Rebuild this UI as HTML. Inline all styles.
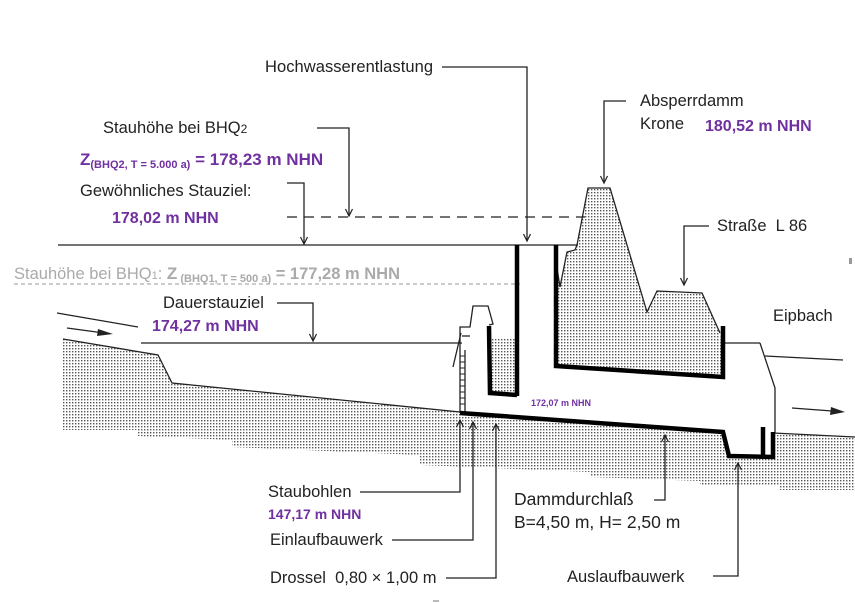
<!DOCTYPE html>
<html><head><meta charset="utf-8"><style>
html,body{margin:0;padding:0;background:#fff;}
svg{display:block;}
text{font-family:"Liberation Sans",sans-serif;}
.t{font-size:16.5px;fill:#222;}
.p{font-size:16px;fill:#7030a0;font-weight:bold;}
</style></head><body>
<svg width="855" height="603" viewBox="0 0 855 603" xmlns="http://www.w3.org/2000/svg">
<defs>
<pattern id="d" width="3" height="3" patternUnits="userSpaceOnUse"><rect width="1.4" height="1.4" fill="#555"/></pattern>
<marker id="a" markerWidth="10" markerHeight="10" refX="8" refY="4" orient="auto" markerUnits="userSpaceOnUse"><path d="M1,0.5 L8,4 L1,7.5" fill="none" stroke="#222" stroke-width="1.2"/></marker>
</defs>

<polygon fill="url(#d)" points="63,339 158,355 172,383 460,412 460,414 723,432 729,457 773,458 773,433 855,437 855,490 780,490 780,486 700,486 700,481 590,477 590,472 420,465 420,455 232,447 232,440 138,436 138,430 63,430"/>
<polygon fill="url(#d)" points="588,188 610,188 647,312 657,291 702,293 720,333 723,378 556,367 556,262 560,287 567,252 575,250 577,245"/>
<rect x="492" y="338" width="23" height="55" fill="url(#d)"/>

<g fill="none" stroke="#222" stroke-width="1.3">
<polyline points="63,339 158,355 172,383 460,412"/>
<line x1="57" y1="313" x2="138" y2="327"/>
<line x1="773" y1="433" x2="855" y2="437"/>
<line x1="58" y1="245" x2="578" y2="245"/>
<line x1="141" y1="343" x2="462" y2="343"/>
<line x1="723" y1="343" x2="760" y2="343"/>
<polyline points="760,343 775,388 775,433"/>
<line x1="765" y1="356" x2="843" y2="360"/>
<line x1="287" y1="217" x2="585" y2="217" stroke-dasharray="10,7"/>
<line x1="14" y1="284" x2="520" y2="284" stroke="#999" stroke-dasharray="4,3" stroke-width="1"/>
<polyline points="556,262 560,287 567,252 575,250 577,245 588,188 610,188 647,312 657,291 702,293 720,333"/>
<polyline points="460,413 460,327 470,327 473,306 488,306 493,324 489,325"/>
<polyline points="462,336 470,336"/>
<line x1="453" y1="367" x2="461" y2="333"/>
<line x1="465" y1="350" x2="465" y2="412"/>
<path d="M460,356h5M460,362h5M460,368h5M460,374h5M460,380h5M460,386h5M460,392h5M460,398h5M460,404h5" stroke-width="1"/>
<polyline points="442,67 527,67 527,241" marker-end="url(#a)"/>
<polyline points="317,128 349,128 349,216" marker-end="url(#a)"/>
<polyline points="287,183 304,183 304,244" marker-end="url(#a)"/>
<polyline points="277,303 313,303 313,341" marker-end="url(#a)"/>
<polyline points="626,101 604,101 604,183" marker-end="url(#a)"/>
<polyline points="709,226 684,226 684,285" marker-end="url(#a)"/>
<polyline points="360,492 460,492 460,420" marker-end="url(#a)"/>
<polyline points="392,540 473,540 473,422" marker-end="url(#a)"/>
<polyline points="446,578 496,578 496,424" marker-end="url(#a)"/>
<polyline points="654,500 665,500 665,435" marker-end="url(#a)"/>
<polyline points="713,576 738,576 738,463" marker-end="url(#a)"/>
</g>
<line x1="67" y1="328" x2="104" y2="333" stroke="#222" stroke-width="1.3"/>
<polygon points="113,334 98,329 97,336" fill="#222"/>
<line x1="792" y1="408" x2="832" y2="411" stroke="#222" stroke-width="1.3"/>
<polygon points="845,412 831,407 830,415" fill="#222"/>

<g fill="none" stroke="#000" stroke-width="4.5" stroke-linejoin="miter">
<polyline points="460,413 723,432 729,456 773,457 773,432"/>
<line x1="763" y1="427" x2="763" y2="456"/>
<line x1="517" y1="245" x2="517" y2="396"/>
<polyline points="489,326 490,393 517,395"/>
<polyline points="556,245 556,366 723,377 723,326"/>
</g>

<text class="t" x="265" y="72" textLength="168">Hochwasserentlastung</text>
<text class="t" x="103" y="133">Stauhöhe bei BHQ<tspan font-size="12">2</tspan></text>
<text class="p" x="80" y="165" style="font-size:17px">Z<tspan font-size="11" dy="3">(BHQ2, T = 5.000 a)</tspan><tspan dy="-3"> = 178,23 m NHN</tspan></text>
<text class="t" x="80" y="196">Gewöhnliches Stauziel:</text>
<text class="p" x="112" y="223">178,02 m NHN</text>
<text x="14" y="279" style="font-size:16.5px;fill:#aaa">Stauhöhe bei BHQ<tspan font-size="11">1</tspan>: <tspan font-weight="bold" font-size="17">Z</tspan><tspan font-weight="bold" font-size="11" dy="3"> (BHQ1, T = 500 a)</tspan><tspan font-weight="bold" dy="-3"> = 177,28 m NHN</tspan></text>
<text class="t" x="163" y="308">Dauerstauziel</text>
<text class="p" x="152" y="331">174,27 m NHN</text>
<text class="t" x="640" y="106">Absperrdamm</text>
<text class="t" x="640" y="129">Krone</text>
<text class="p" x="705" y="131">180,52 m NHN</text>
<text class="t" x="717" y="231">Straße&#160; L 86</text>
<text class="t" x="773" y="321">Eipbach</text>
<text x="531" y="406" style="font-size:9px;fill:#7030a0;font-weight:bold">172,07 m NHN</text>
<text class="t" x="268" y="497">Staubohlen</text>
<text class="p" x="268" y="519" style="font-size:14px">147,17 m NHN</text>
<text class="t" x="270" y="545">Einlaufbauwerk</text>
<text class="t" x="270" y="583">Drossel&#160; 0,80 × 1,00 m</text>
<text class="t" x="514" y="505" style="font-size:17.5px">Dammdurchlaß</text>
<text class="t" x="514" y="528" style="font-size:17.5px">B=4,50 m, H= 2,50 m</text>
<text class="t" x="567" y="582">Auslaufbauwerk</text>
<rect x="849" y="258" width="3" height="6" fill="#999"/>
<rect x="433" y="600" width="6" height="2" fill="#bbb"/>
</svg>
</body></html>
